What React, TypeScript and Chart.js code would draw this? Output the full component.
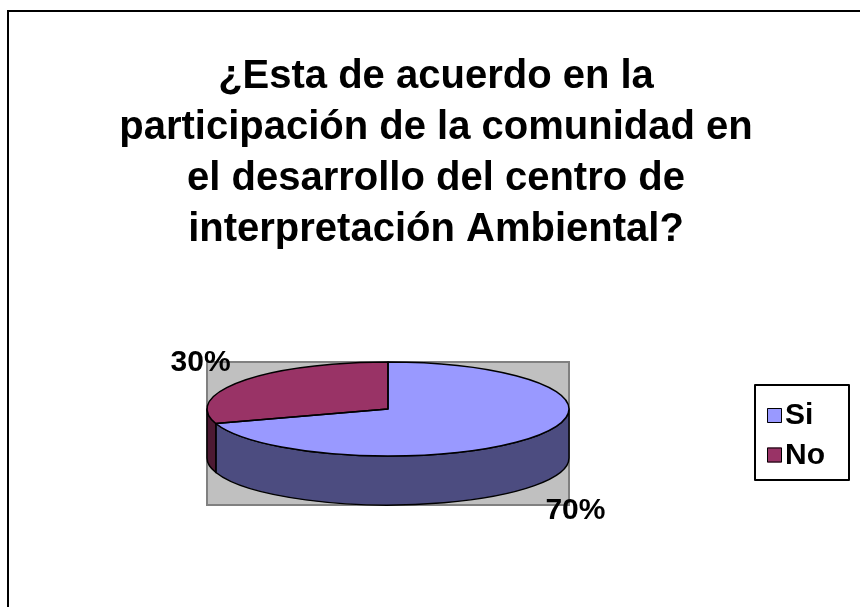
import React, { useEffect, useRef } from "react";
import { Chart, registerables } from "chart.js";

Chart.register(...registerables);

// ---- data ----
const TITLE_LINES = [
  "¿Esta de acuerdo en la",
  "participación de la comunidad en",
  "el desarrollo del centro de",
  "interpretación Ambiental?",
];
const CATEGORIES = ["Si", "No"];
const VALUES = [70, 30];
const TOP_COLORS = ["#9999FF", "#993366"];
const SIDE_COLORS = ["#4C4C80", "#4D1A33"];

// ---- layout constants ----
const W = 860;
const H = 607;
const FONT = '"Liberation Sans", Arial, Helvetica, sans-serif';
const PIE = { cx: 388, cy: 409, rx: 181, ry: 47, depth: 49 };
const PLOT = { x: 207, y: 362, w: 362, h: 143 };

const pie3d = {
  id: "pie3d",
  beforeDraw(chart: any) {
    const ctx: CanvasRenderingContext2D = chart.ctx;
    ctx.save();
    ctx.fillStyle = "#FFFFFF";
    ctx.fillRect(0, 0, W, H);
    // outer chart frame
    ctx.strokeStyle = "#000000";
    ctx.lineWidth = 2;
    ctx.strokeRect(8, 11, 1000, 800);
    // plot area
    ctx.fillStyle = "#C0C0C0";
    ctx.fillRect(PLOT.x, PLOT.y, PLOT.w, PLOT.h);
    ctx.strokeStyle = "#808080";
    ctx.lineWidth = 2;
    ctx.strokeRect(PLOT.x, PLOT.y, PLOT.w, PLOT.h);
    ctx.restore();
  },
  beforeDatasetsDraw(chart: any) {
    const ctx: CanvasRenderingContext2D = chart.ctx;
    const meta = chart.getDatasetMeta(0);
    const arcs = meta.data;
    const { cx, cy, rx, ry, depth } = PIE;
    // side walls (front half only)
    ctx.save();
    ctx.lineWidth = 1.5;
    ctx.strokeStyle = "#000000";
    ctx.lineJoin = "round";
    arcs.forEach((arc: any, i: number) => {
      const { startAngle, endAngle } = arc.getProps(["startAngle", "endAngle"], true);
      for (const k of [-2, 0, 2, 4]) {
        const lo = Math.max(startAngle, k * Math.PI);
        const hi = Math.min(endAngle, k * Math.PI + Math.PI);
        if (hi > lo) {
          ctx.beginPath();
          ctx.ellipse(cx, cy, rx, ry, 0, lo, hi, false);
          ctx.lineTo(cx + rx * Math.cos(hi), cy + ry * Math.sin(hi) + depth);
          ctx.ellipse(cx, cy + depth, rx, ry, 0, hi, lo, true);
          ctx.closePath();
          ctx.fillStyle = SIDE_COLORS[i];
          ctx.fill();
          ctx.stroke();
        }
      }
    });
    ctx.restore();
    // squash the library-drawn pie into the top face
    const a0 = arcs[0];
    const { x, y, outerRadius } = a0.getProps(["x", "y", "outerRadius"], true);
    ctx.save();
    ctx.translate(cx, cy);
    ctx.scale(rx / outerRadius, ry / outerRadius);
    ctx.translate(-x, -y);
  },
  afterDatasetsDraw(chart: any) {
    const ctx: CanvasRenderingContext2D = chart.ctx;
    ctx.restore();
    const meta = chart.getDatasetMeta(0);
    const arcs = meta.data;
    const { cx, cy, rx, ry, depth } = PIE;
    const values: number[] = chart.data.datasets[0].data;
    const total = values.reduce((s, v) => s + v, 0);
    ctx.save();
    ctx.lineWidth = 1.5;
    ctx.strokeStyle = "#000000";
    ctx.lineJoin = "round";
    arcs.forEach((arc: any) => {
      const { startAngle, endAngle } = arc.getProps(["startAngle", "endAngle"], true);
      ctx.beginPath();
      ctx.moveTo(cx, cy);
      ctx.lineTo(cx + rx * Math.cos(startAngle), cy + ry * Math.sin(startAngle));
      ctx.ellipse(cx, cy, rx, ry, 0, startAngle, endAngle, false);
      ctx.closePath();
      ctx.stroke();
    });
    // percentage labels
    ctx.fillStyle = "#000000";
    ctx.font = `bold 30px ${FONT}`;
    ctx.textBaseline = "middle";
    ctx.textAlign = "center";
    arcs.forEach((arc: any, i: number) => {
      const { startAngle, endAngle } = arc.getProps(["startAngle", "endAngle"], true);
      const m = (startAngle + endAngle) / 2;
      const s = Math.sin(m);
      const lx = cx + rx * 1.28 * Math.cos(m);
      const ly = cy + ry * 1.75 * s + (s > 0 ? depth + 3 : 1);
      const pct = Math.round((values[i] / total) * 100) + "%";
      ctx.fillText(pct, lx, ly + 1);
    });
    // title
    ctx.font = `bold 40px ${FONT}`;
    ctx.textBaseline = "alphabetic";
    ctx.textAlign = "center";
    TITLE_LINES.forEach((line, i) => {
      ctx.fillText(line, 436, 88 + i * 51);
    });
    // legend
    ctx.fillStyle = "#FFFFFF";
    ctx.fillRect(755, 385, 94, 95);
    ctx.lineWidth = 2;
    ctx.strokeStyle = "#000000";
    ctx.strokeRect(755, 385, 94, 95);
    ctx.font = `bold 30px ${FONT}`;
    ctx.textBaseline = "middle";
    ctx.textAlign = "left";
    chart.data.labels.forEach((lab: string, i: number) => {
      const yy = 415 + i * 39.5;
      ctx.fillStyle = TOP_COLORS[i];
      ctx.fillRect(767, yy - 7, 15, 15);
      ctx.lineWidth = 1;
      ctx.strokeStyle = "#000000";
      ctx.strokeRect(767.5, yy - 6.5, 14, 14);
      ctx.fillStyle = "#000000";
      ctx.fillText(lab, 785, yy + 1);
    });
    ctx.restore();
  },
};

export default function App() {
  const canvasRef = useRef<HTMLCanvasElement | null>(null);
  useEffect(() => {
    if (!canvasRef.current) return;
    const chart = new Chart(canvasRef.current, {
      type: "pie",
      data: {
        labels: CATEGORIES,
        datasets: [
          {
            data: VALUES,
            backgroundColor: TOP_COLORS,
            borderWidth: 0,
          },
        ],
      },
      options: {
        responsive: false,
        animation: false,
        devicePixelRatio: 1,
        layout: { padding: 20 },
        plugins: {
          legend: { display: false },
          title: { display: false },
          tooltip: { enabled: false },
        },
        events: [],
      },
      plugins: [pie3d],
    });
    return () => chart.destroy();
  }, []);
  return (
    <div style={{ position: "fixed", left: 0, top: 0, width: W, height: H, background: "#fff" }}>
      <canvas ref={canvasRef} width={W} height={H} style={{ width: W, height: H, display: "block" }} />
    </div>
  );
}
